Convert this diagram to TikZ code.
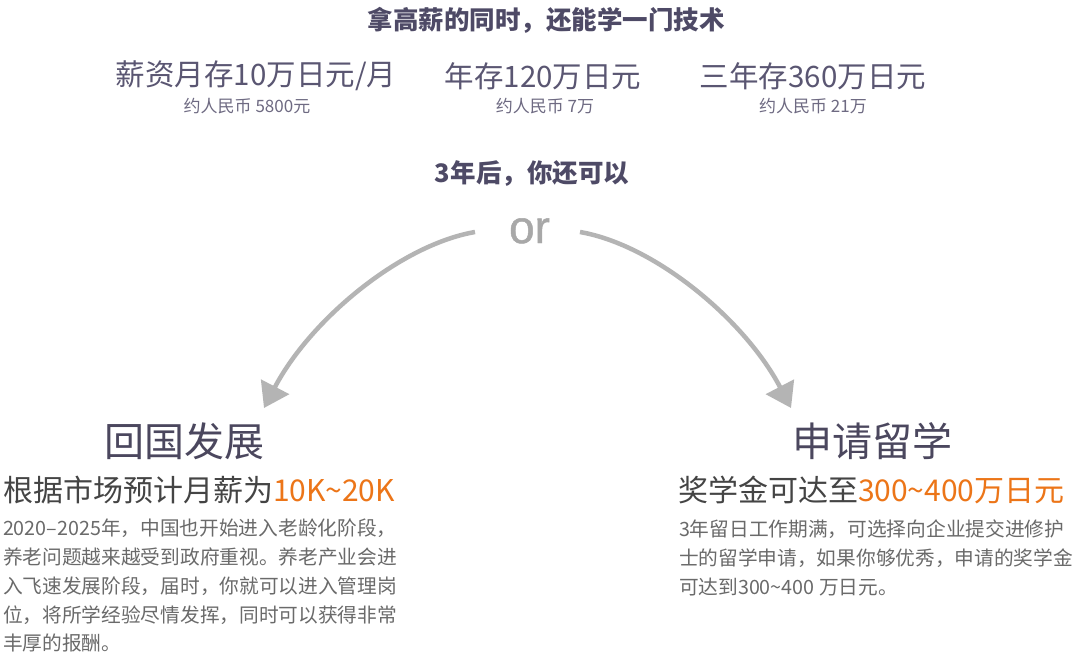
\documentclass[tikz,border=0pt]{standalone}
\usepackage{fontspec}
\setmainfont{Noto Sans CJK SC}
\newfontfamily\orfont[FakeBold=1]{Liberation Sans}
\usetikzlibrary{arrows.meta}
\definecolor{titlec}{HTML}{4E4A66}
\definecolor{rowc}{HTML}{5A5672}
\definecolor{subc}{HTML}{6E6A82}
\definecolor{bigc}{HTML}{4B475E}
\definecolor{headc}{HTML}{444444}
\definecolor{orangec}{HTML}{EC7518}
\definecolor{bodyc}{HTML}{6A6A6A}
\definecolor{arrowc}{HTML}{B4B4B4}
\definecolor{orc}{HTML}{A8A8A8}
\newcommand\setfs[1]{\fontsize{#1}{#1}\selectfont}
\begin{document}
\begin{tikzpicture}[x=1pt,y=-1pt,
  txt/.style={inner sep=0pt,outer sep=0pt},
  titletext/.style={txt,text=titlec,font=\setfs{25.5}\bfseries},
  rowtext/.style={txt,text=rowc,font=\setfs{29.5}},
  subtext/.style={txt,text=subc,font=\setfs{17}},
  bighead/.style={txt,text=bigc,font=\setfs{40}},
  subhead/.style={txt,text=headc,font=\setfs{30},anchor=west},
  bodytext/.style={txt,text=bodyc,font=\fontsize{19.7}{28.8}\selectfont,align=left,anchor=north west},
  conn/.style={draw=arrowc,line width=4.5pt,-{Triangle[length=24pt,width=31pt]}}]
\useasboundingbox[fill=white] (0,0) rectangle (1078,656);

\node[titletext] (title) at (546,20) {拿高薪的同时，还能学一门技术};

\node[rowtext] (s1) at (256,76) {薪资月存10万日元/月};
\node[subtext] (s1b) at (247,106) {约人民币 5800元};
\node[rowtext] (s2) at (543,76) {年存120万日元};
\node[subtext] (s2b) at (545,106) {约人民币 7万};
\node[rowtext] (s3) at (813,76) {三年存360万日元};
\node[subtext] (s3b) at (813,106) {约人民币 21万};

\node[titletext] (after) at (532,174) {3年后，你还可以};

\node[txt,text=orc,font=\orfont\setfs{46},anchor=base] (or) at (529.5,243) {or};

\coordinate (la) at (475,232);
\coordinate (lt) at (264,408);
\coordinate (ra) at (580,232);
\coordinate (rt) at (791,408);
\draw[conn] (la) .. controls (400,245) and (310,320) .. (lt);
\draw[conn] (ra) .. controls (655,245) and (745,320) .. (rt);

\node[bighead] (h1) at (184,441) {回国发展};
\node[bighead] (h2) at (872,441) {申请留学};

\node[subhead] (sh1) at (3,490) {根据市场预计月薪为\textcolor{orangec}{10K\textasciitilde20K}};
\node[subhead] (sh2) at (678,490) {奖学金可达至\textcolor{orangec}{300\textasciitilde400万日元}};

\node[bodytext] (b1) at (3,519) {2020–2025年，中国也开始进入老龄化阶段，\\养老问题越来越受到政府重视。养老产业会进\\入飞速发展阶段，届时，你就可以进入管理岗\\位，将所学经验尽情发挥，同时可以获得非常\\丰厚的报酬。};
\node[bodytext] (b2) at (679,520) {3年留日工作期满，可选择向企业提交进修护\\士的留学申请，如果你够优秀，申请的奖学金\\可达到300\textasciitilde400 万日元。};
\end{tikzpicture}
\end{document}
